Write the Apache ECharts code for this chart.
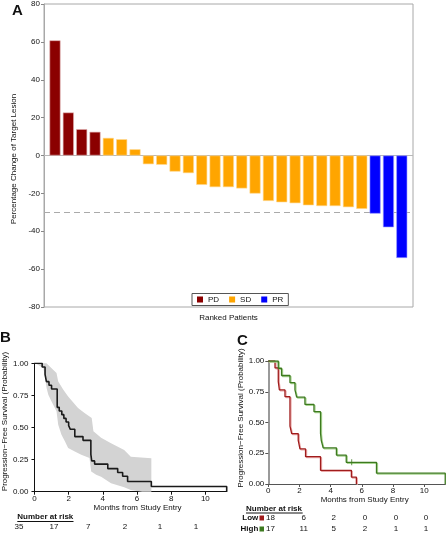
<!DOCTYPE html>
<html>
<head>
<meta charset="utf-8">
<script src="https://cdn.jsdelivr.net/npm/echarts@6/dist/echarts.min.js"></script>
<style>
html,body{margin:0;padding:0;background:#fff;}
#chart{width:446px;height:535px;}
</style>
</head>
<body>
<div id="chart"></div>
<script>
// ---------- Panel A data ----------
const groupNames = ['PD', 'SD', 'PR'];
const pdValues = [60.8, 22.7, 13.9, 12.5];
const sdValues = [9.3, 8.6, 3.3, -4.6, -4.9, -8.5, -9.3, -15.5, -16.7, -16.7, -17.4, -20.1, -24.0, -24.7, -25.2, -26.3, -26.7, -26.7, -27.3, -28.2];
const prValues = [-30.7, -37.9, -54.1];
const yTicksA = [-80, -60, -40, -20, 0, 20, 40, 60, 80];
const thresholdA = -30;

// ---------- Panel B data (Kaplan-Meier, all patients) ----------
const bKM = [[0,1],[0.45,0.971],[0.62,0.914],[0.7,0.857],[0.85,0.829],[1.0,0.80],[1.33,0.657],[1.45,0.629],[1.6,0.60],[1.72,0.571],[1.85,0.543],[2.0,0.514],[2.1,0.486],[2.36,0.429],[2.84,0.40],[3.3,0.29],[3.35,0.24],[3.52,0.215],[4.29,0.18],[4.87,0.15],[5.16,0.12],[5.45,0.08],[6.84,0.04],[11.25,0.04],[11.25,0]];
const bUpper = [[0,1],[0.7,1],[1.29,0.924],[1.39,0.859],[1.68,0.795],[1.97,0.742],[2.55,0.652],[2.93,0.613],[3.35,0.574],[3.45,0.47],[3.9,0.42],[4.48,0.377],[5.25,0.325],[5.64,0.272],[6.84,0.26]];
const bLower = [[0,1],[0.05,1],[0.52,0.963],[0.62,0.885],[0.71,0.807],[0.81,0.755],[1.0,0.703],[1.29,0.626],[1.39,0.522],[1.58,0.444],[1.78,0.392],[1.97,0.34],[2.36,0.314],[2.74,0.288],[3.22,0.262],[3.32,0.158],[3.61,0.132],[3.9,0.117],[4.48,0.065],[5.25,0.034],[5.64,0.013],[6.3,0],[6.84,0]];
const monthTicks = [0, 2, 4, 6, 8, 10];
const probTicks = [0, 0.25, 0.5, 0.75, 1];
const bRisk = ['35', '17', '7', '2', '1', '1'];

// ---------- Panel C data (Low vs High) ----------
const cLow = [[0,1],[0.43,0.944],[0.64,0.833],[0.71,0.765],[1.07,0.71],[1.39,0.47],[1.5,0.41],[1.92,0.355],[2.03,0.285],[2.39,0.222],[3.35,0.111],[5.33,0.056],[5.65,0]];
const cHigh = [[0,1],[0.64,0.941],[0.85,0.882],[1.39,0.824],[1.71,0.765],[1.82,0.706],[2.35,0.647],[2.93,0.588],[3.35,0.412],[3.4,0.353],[3.52,0.294],[4.37,0.235],[5.0,0.176],[6.94,0.088],[11.35,0.088],[11.35,0]];
const cHighCensor = [[5.35, 0.176]];
const cRiskLow = ['18', '6', '2', '0', '0', '0'];
const cRiskHigh = ['17', '11', '5', '2', '1', '1'];

// ---------- layout (not data) ----------
const FONT = 'Liberation Sans, Arial, Helvetica, sans-serif';
const bRiskX = [19, 54, 88.3, 125, 160, 196];
const cRiskX = [303.7, 333.7, 365, 396, 426];
const colors = { PD: '#8B0000', SD: '#FFA500', PR: '#0000FF' };

const chart = echarts.init(document.getElementById('chart'), null, { renderer: 'canvas' });

let rank = 0;
function ranked(arr) { return arr.map(v => [rank++, v]); }
const pdData = ranked(pdValues), sdData = ranked(sdValues), prData = ranked(prValues);

const txt = (text, x, y, opts) => Object.assign({
  type: 'text', silent: true,
  style: Object.assign({ text, x, y, fill: '#111', font: '8px ' + FONT, textAlign: 'center', textVerticalAlign: 'middle' }, opts || {})
});

const graphics = [
  txt('A', 12, 3, { font: 'bold 15px ' + FONT, textAlign: 'left', textVerticalAlign: 'top' }),
  txt('B', 0, 330, { font: 'bold 15px ' + FONT, textAlign: 'left', textVerticalAlign: 'top' }),
  txt('C', 237, 333, { font: 'bold 15px ' + FONT, textAlign: 'left', textVerticalAlign: 'top' }),
  // B risk table
  txt('Number at risk', 17.3, 517, { font: 'bold 8px ' + FONT, textAlign: 'left' }),
  { type: 'line', silent: true, shape: { x1: 17.3, y1: 521.5, x2: 73.5, y2: 521.5 }, style: { stroke: '#111', lineWidth: 1 } },
  // C risk table
  txt('Number at risk', 246, 509, { font: 'bold 8px ' + FONT, textAlign: 'left' }),
  { type: 'line', silent: true, shape: { x1: 246, y1: 513, x2: 302.7, y2: 513 }, style: { stroke: '#111', lineWidth: 1 } },
  txt('Low', 258.3, 518, { font: 'bold 8px ' + FONT, textAlign: 'right' }),
  { type: 'rect', silent: true, shape: { x: 259.5, y: 515.5, width: 4.5, height: 5 }, style: { fill: '#a01c1c' } },
  txt('High', 258.3, 529, { font: 'bold 8px ' + FONT, textAlign: 'right' }),
  { type: 'rect', silent: true, shape: { x: 259.5, y: 526.5, width: 4.5, height: 5 }, style: { fill: '#3d7a1f' } },
  txt(cRiskLow[0], 266, 518, { textAlign: 'left' }),
  txt(cRiskHigh[0], 266, 529, { textAlign: 'left' })
];
bRisk.forEach((t, i) => graphics.push(txt(t, bRiskX[i], 527)));
cRiskLow.slice(1).forEach((t, i) => graphics.push(txt(t, cRiskX[i], 518)));
cRiskHigh.slice(1).forEach((t, i) => graphics.push(txt(t, cRiskX[i], 529)));

const axisNameStyle = { fontSize: 8, color: '#111', fontFamily: FONT };
const labelStyle = { fontSize: 8, color: '#111', fontFamily: FONT };

const option = {
  animation: false,
  textStyle: { fontFamily: FONT },
  grid: [
    { left: 44, top: 4, width: 369, height: 303, show: true, borderColor: '#a8a8a8', borderWidth: 1, backgroundColor: 'transparent' },
    { left: 32.7, top: 363.3, width: 194, height: 128.4 },
    { left: 268.3, top: 361, width: 178.2, height: 123 }
  ],
  legend: {
    data: groupNames, left: 192, top: 293.5, orient: 'horizontal',
    itemWidth: 6, itemHeight: 6, itemGap: 10, icon: 'rect',
    itemStyle: { borderWidth: 0 },
    borderColor: '#555', borderWidth: 1, padding: [2, 5, 2, 5],
    textStyle: { fontSize: 8, color: '#111', fontFamily: FONT }, selectedMode: false
  },
  xAxis: [
    { gridIndex: 0, type: 'value', min: -0.8246, max: 26.84,
      axisLine: { show: false }, axisTick: { show: false }, axisLabel: { show: false }, splitLine: { show: false },
      name: 'Ranked Patients', nameLocation: 'middle', nameGap: 7, nameTextStyle: axisNameStyle },
    { gridIndex: 1, type: 'value', min: 0, max: 11.25,
      axisLine: { show: true, onZero: false, lineStyle: { color: '#111', width: 1 } },
      axisTick: { show: true, length: 3, customValues: monthTicks, lineStyle: { color: '#111' } },
      axisLabel: { customValues: monthTicks, margin: 3, ...labelStyle },
      splitLine: { show: false },
      name: 'Months from Study Entry', nameLocation: 'middle', nameGap: 12,
      nameTextStyle: Object.assign({ padding: [0, 0, 0, 14] }, axisNameStyle) },
    { gridIndex: 2, type: 'value', min: 0, max: 11.4,
      axisLine: { show: true, onZero: false, lineStyle: { color: '#555', width: 1 } },
      axisTick: { show: true, length: 3, customValues: monthTicks, lineStyle: { color: '#555' } },
      axisLabel: { customValues: monthTicks, margin: 3, ...labelStyle },
      splitLine: { show: false },
      name: 'Months from Study Entry', nameLocation: 'middle', nameGap: 11,
      nameTextStyle: Object.assign({ padding: [0, 0, 0, 15] }, axisNameStyle) }
  ],
  yAxis: [
    { gridIndex: 0, type: 'value', min: -80, max: 80, interval: 20,
      axisLine: { show: true, onZero: false, lineStyle: { color: '#a8a8a8' } },
      axisTick: { show: true, length: 3, customValues: yTicksA, lineStyle: { color: '#888' } },
      axisLabel: { customValues: yTicksA, margin: 4, ...labelStyle },
      splitLine: { show: false },
      name: 'Percentage Change of Target Lesion', nameLocation: 'middle', nameGap: 25,
      nameTextStyle: Object.assign({ padding: [0, 7, 0, 0] }, axisNameStyle) },
    { gridIndex: 1, type: 'value', min: 0, max: 1, interval: 0.25,
      axisLine: { show: true, onZero: false, lineStyle: { color: '#111' } },
      axisTick: { show: true, length: 3, lineStyle: { color: '#111' } },
      axisLabel: { margin: 6, formatter: v => v.toFixed(2), ...labelStyle },
      splitLine: { show: false },
      name: 'Progression\u2212Free Survival (Probability)', nameLocation: 'middle', nameGap: 24,
      nameTextStyle: Object.assign({ padding: [0, 0, 0, 12] }, axisNameStyle) },
    { gridIndex: 2, type: 'value', min: 0, max: 1, interval: 0.25,
      axisLine: { show: true, onZero: false, lineStyle: { color: '#9a9a9a', width: 2 } },
      axisTick: { show: true, length: 3, lineStyle: { color: '#555' } },
      axisLabel: { margin: 4, formatter: v => v.toFixed(2), ...labelStyle },
      splitLine: { show: false },
      name: 'Progression\u2212Free Survival (Probability)', nameLocation: 'middle', nameGap: 24,
      nameTextStyle: Object.assign({ padding: [0, 0, 0, 9] }, axisNameStyle) }
  ],
  series: [
    { name: 'PD', type: 'bar', xAxisIndex: 0, yAxisIndex: 0, data: pdData, barWidth: 11, barGap: '-100%',
      itemStyle: { color: colors.PD, borderColor: '#e0b0b0', borderWidth: 0.6 },
      markLine: { silent: true, symbol: 'none', label: { show: false }, z: 1,
        data: [
          { yAxis: 0, lineStyle: { color: '#b8b8b8', type: 'solid', width: 1 } },
          { yAxis: thresholdA, lineStyle: { color: '#aaaaaa', type: [6, 4], width: 1 } }
        ] } },
    { name: 'SD', type: 'bar', xAxisIndex: 0, yAxisIndex: 0, data: sdData, barWidth: 11, barGap: '-100%',
      itemStyle: { color: colors.SD, borderColor: '#ffd890', borderWidth: 0.6 } },
    { name: 'PR', type: 'bar', xAxisIndex: 0, yAxisIndex: 0, data: prData, barWidth: 11, barGap: '-100%',
      itemStyle: { color: colors.PR, borderColor: '#a0a0ff', borderWidth: 0.6 } },
    { name: 'CI', type: 'custom', xAxisIndex: 1, yAxisIndex: 1, data: [[0, 0]], silent: true,
      renderItem: (params, api) => {
        const pts = bUpper.map(p => api.coord(p)).concat(bLower.slice().reverse().map(p => api.coord(p)));
        return { type: 'polygon', shape: { points: pts }, style: { fill: '#d3d3d3', stroke: 'none' } };
      }, z: 1 },
    { name: 'All', type: 'line', xAxisIndex: 1, yAxisIndex: 1, data: bKM, step: 'end', symbol: 'none',
      lineStyle: { color: '#1a1a1a', width: 1.6 }, z: 3 },
    { name: 'Low', type: 'line', xAxisIndex: 2, yAxisIndex: 2, data: cLow, step: 'end', symbol: 'none',
      lineStyle: { color: '#a01c1c', width: 1.3, shadowColor: '#eaa8a8', shadowOffsetX: 1, shadowOffsetY: 1, shadowBlur: 0 }, z: 3 },
    { name: 'High', type: 'line', xAxisIndex: 2, yAxisIndex: 2, data: cHigh, step: 'end', symbol: 'none',
      lineStyle: { color: '#3d7a1f', width: 1.3, shadowColor: '#a8d490', shadowOffsetX: 1, shadowOffsetY: 1, shadowBlur: 0 }, z: 3 },
    { name: 'HighCensor', type: 'scatter', xAxisIndex: 2, yAxisIndex: 2, data: cHighCensor, symbol: 'rect', symbolSize: [1, 6],
      itemStyle: { color: '#3d7a1f' }, z: 4 }
  ],
  graphic: graphics
};
chart.setOption(option);
</script>
</body>
</html>
